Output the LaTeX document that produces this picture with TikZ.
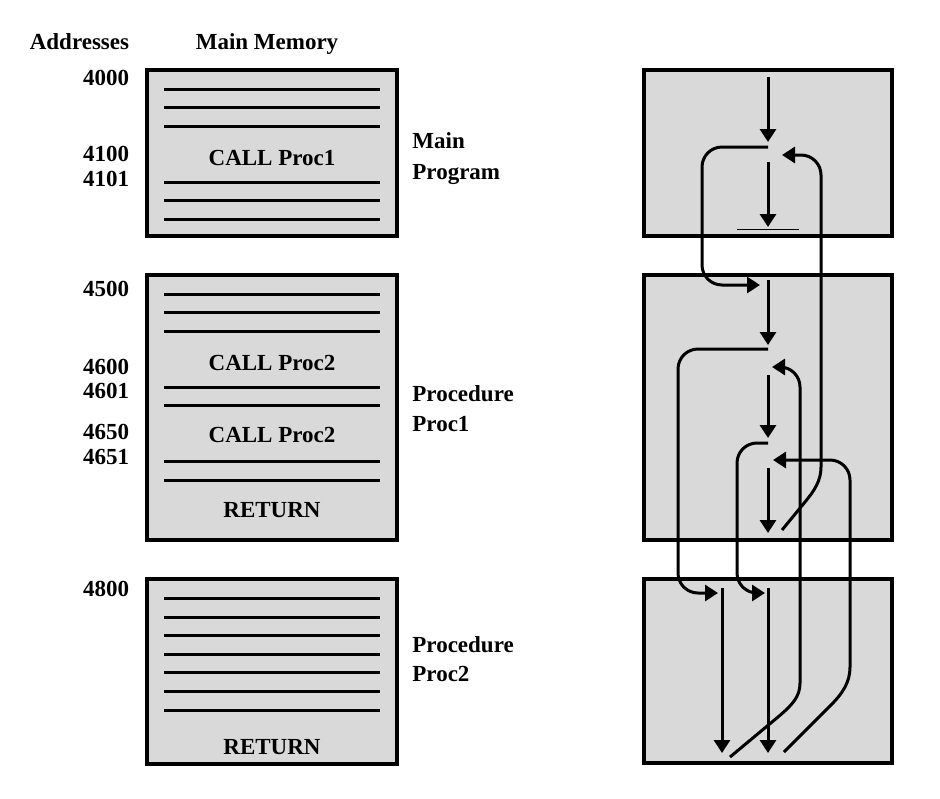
\documentclass[tikz,border=0pt]{standalone}
\usepackage{fontspec}
\setmainfont{Liberation Serif}
\usetikzlibrary{arrows.meta}
\definecolor{memgray}{RGB}{217,217,217}
\tikzset{
	membox/.style={draw=black,line width=1.6pt,fill=memgray},
	word/.style={line width=1.5pt},
	txt/.style={inner sep=0pt,font=\fontsize{11.5}{13}\selectfont\bfseries},
	flow/.style={line width=1.5pt,-{Triangle[length=6.5pt,width=8pt]}}
}
\begin{document}
\begin{tikzpicture}[x=0.5pt,y=-0.5pt]
	\useasboundingbox (0,0) rectangle (940,798);
	% headings
	\node[txt,anchor=base east] (addr) at (129.5,49) {Addresses};
	\node[txt,anchor=base] (mem) at (267,49) {Main Memory};
	% memory
	\draw[membox] (147,70) rectangle (397,236);
	\draw[membox] (147,275) rectangle (397,540);
	\draw[membox] (147,579) rectangle (397,764);
	\foreach \y in {89,107.5,126,182,200.5,219,294,312.5,331,387,405.5,461.5,480,598,617,635.5,654,672.5,691,710}
		\draw[word] (164,\y) -- (380,\y);
	\node[txt,anchor=base] (call1) at (272,165.5) {CALL Proc1};
	\node[txt,anchor=base] (call2a) at (272,370) {CALL Proc2};
	\node[txt,anchor=base] (call2b) at (272,442) {CALL Proc2};
	\node[txt,anchor=base] (ret1) at (272,517.5) {RETURN};
	\node[txt,anchor=base] (ret2) at (272,754) {RETURN};
	\foreach \a/\y in {4000/85,4100/161.7,4101/186,4500/296.5,4600/374,4601/398.5,4650/439,4651/464,4800/596}
		\node[txt,anchor=base east] (a\a) at (129.5,\y) {\a};
	\node[txt,anchor=base west] (mainlbl) at (412,148) {Main};
	\node[txt,anchor=base west] (proglbl) at (412,179) {Program};
	\node[txt,anchor=base west] (proc1a) at (412,401.5) {Procedure};
	\node[txt,anchor=base west] (proc1b) at (412,431.5) {Proc1};
	\node[txt,anchor=base west] (proc2a) at (412,652.5) {Procedure};
	\node[txt,anchor=base west] (proc2b) at (412,681) {Proc2};
	% execution
	\draw[membox] (644,70) rectangle (892,236);
	\draw[membox] (644,275) rectangle (892,540);
	\draw[membox] (644,579) rectangle (892,763);
	\draw[flow] (768,77) -- (768,142);
	\draw[flow,rounded corners=10pt] (768,147) -- (702,147) -- (702,285) -- (760,285);
	\draw[flow] (768,162) -- (768,227);
	\draw[line width=0.8pt] (737,229.5) -- (799,229.5);
	\draw[flow] (768,280) -- (768,345);
	\draw[flow,rounded corners=10pt] (768,349) -- (678,349) -- (678,593) -- (718,593);
	\draw[flow] (768,375) -- (768,438);
	\draw[flow,rounded corners=10pt] (768,443) -- (737,443) -- (737,593) -- (765,593);
	\draw[flow] (768,468) -- (768,533);
	\draw[flow] (722,588) -- (722,753);
	\draw[flow] (768,588) -- (768,753);
	% returns
	\draw[flow] (782,530) -- (805,502) .. controls (814,491) and (821,481) .. (821,467) [rounded corners=10pt] -- (821,155) -- (782,155);
	\draw[flow] (730,757) -- (778,717) .. controls (792,705) and (800,697) .. (800,683) [rounded corners=10pt] -- (800,367) -- (772,367);
	\draw[flow] (784,752) -- (830,706) .. controls (843,693) and (850,682) .. (850,667) [rounded corners=10pt] -- (850,460) -- (773,460);
\end{tikzpicture}
\end{document}
